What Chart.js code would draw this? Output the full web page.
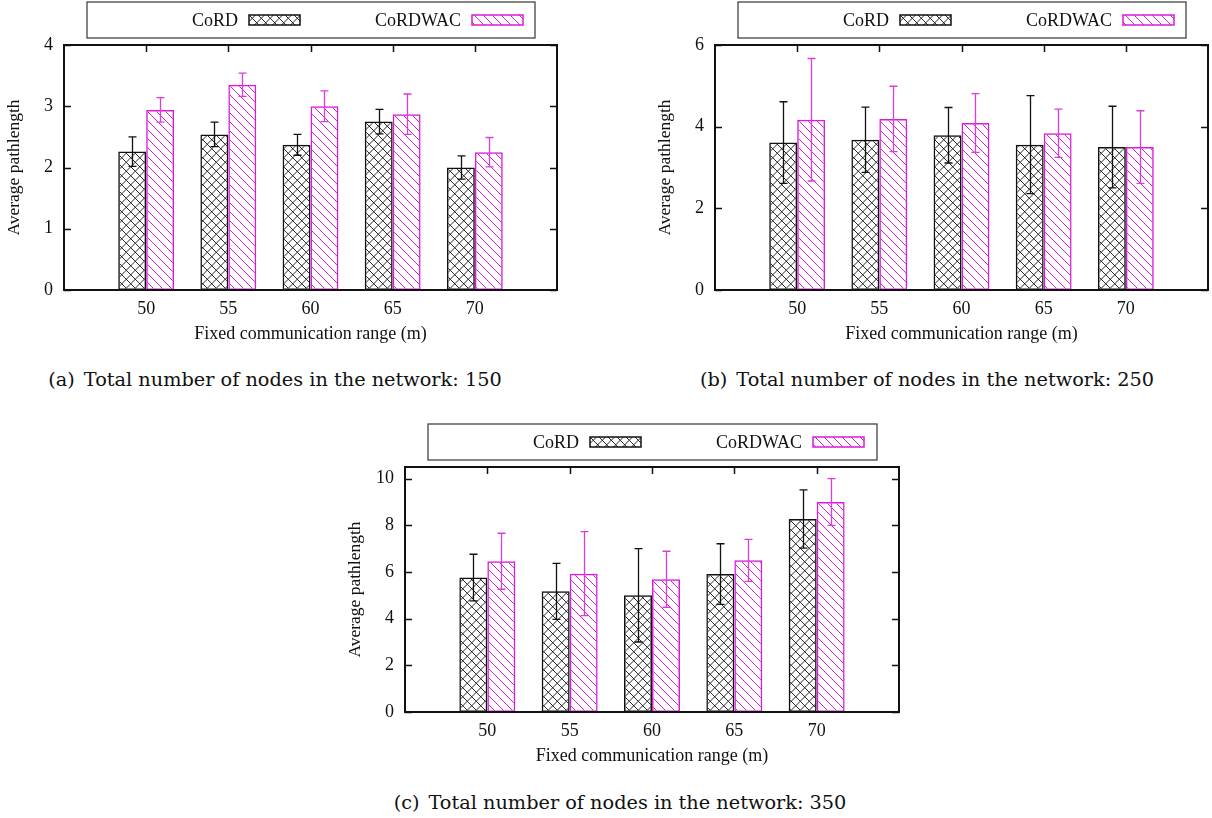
<!DOCTYPE html>
<html>
<head>
<meta charset="utf-8">
<script src="https://cdn.jsdelivr.net/npm/chart.js@4.4.1/dist/chart.umd.min.js"></script>
<style>
  body { margin: 0; background: #fff; width: 1212px; height: 818px; position: relative; overflow: hidden; }
  canvas { position: absolute; }
  .caption {
    position: absolute; font-family: 'DejaVu Serif', serif; font-size: 19.3px; color: #111;
    white-space: nowrap; transform: translateX(-50%); line-height: 22px;
  }
  .caption span { margin-right: 9px; }
</style>
</head>
<body>
<canvas id="chartA" width="580" height="350" style="left:0;top:0"></canvas>
<canvas id="chartB" width="561" height="350" style="left:651px;top:0"></canvas>
<canvas id="chartC" width="580" height="350" style="left:341px;top:422px"></canvas>
<div class="caption" style="left:275px;top:369px"><span>(a)</span>Total number of nodes in the network: 150</div>
<div class="caption" style="left:927px;top:369px"><span>(b)</span>Total number of nodes in the network: 250</div>
<div class="caption" style="left:620px;top:792px"><span>(c)</span>Total number of nodes in the network: 350</div>
<script>
// ---- data -------------------------------------------------------------------
const ranges = [50, 55, 60, 65, 70];
const seriesNames = ['CoRD', 'CoRDWAC'];

// (a) 150 nodes
const cordA    = [2.26, 2.54, 2.37, 2.75, 2.00];
const cordErrA = [0.24, 0.20, 0.17, 0.20, 0.19];
const wacA     = [2.94, 3.35, 3.00, 2.87, 2.25];
const wacErrA  = [0.20, 0.19, 0.25, 0.33, 0.24];
const yTicksA  = [0, 1, 2, 3, 4];

// (b) 250 nodes
const cordB    = [3.61, 3.68, 3.79, 3.56, 3.50];
const cordErrB = [1.00, 0.80, 0.68, 1.20, 1.00];
const wacB     = [4.17, 4.19, 4.09, 3.84, 3.50];
const wacErrB  = [1.50, 0.80, 0.72, 0.59, 0.89];
const yTicksB  = [0, 2, 4, 6];

// (c) 350 nodes
const cordC    = [5.76, 5.17, 5.00, 5.91, 8.27];
const cordErrC = [1.00, 1.20, 2.00, 1.30, 1.25];
const wacC     = [6.46, 5.93, 5.69, 6.50, 9.00];
const wacErrC  = [1.20, 1.80, 1.20, 0.90, 1.00];
const yTicksC  = [0, 2, 4, 6, 8, 10];

const MAGENTA = '#d81cd8';
const SERIF = "'Liberation Serif', 'Times New Roman', serif";

// ---- fill patterns ------------------------------------------------------------
function crossHatch(color, size) {
  const c = document.createElement('canvas');
  c.width = size; c.height = size;
  const g = c.getContext('2d');
  g.strokeStyle = color; g.lineWidth = 0.9;
  g.beginPath();
  for (let k = -1; k <= 1; k++) {
    g.moveTo(-2, -2 + k * size); g.lineTo(size + 2, size + 2 + k * size);
    g.moveTo(size + 2, -2 + k * size); g.lineTo(-2, size + 2 + k * size);
  }
  g.stroke();
  return g.createPattern(c, 'repeat');
}
function backHatch(color, size) {
  const c = document.createElement('canvas');
  c.width = size; c.height = size;
  const g = c.getContext('2d');
  g.strokeStyle = color; g.lineWidth = 1;
  g.beginPath();
  for (let k = -1; k <= 1; k++) {
    g.moveTo(-2, -2 + k * size); g.lineTo(size + 2, size + 2 + k * size);
  }
  g.stroke();
  return g.createPattern(c, 'repeat');
}
const crossFill = crossHatch('#111', 9.5);
const hatchFill = backHatch(MAGENTA, 9);

// ---- plugins ------------------------------------------------------------------
// gnuplot-like frame with inward ticks on all four sides
const framePlugin = {
  id: 'frame',
  afterDatasetsDraw(chart) {
    const { ctx, chartArea: a, scales } = chart;
    ctx.save();
    ctx.strokeStyle = '#111';
    ctx.lineWidth = 1.5;
    ctx.beginPath();
    scales.x.ticks.forEach(t => {
      const px = Math.round(scales.x.getPixelForValue(t.value)) + 0.5;
      ctx.moveTo(px, a.top); ctx.lineTo(px, a.top + 7);
    });
    scales.y.ticks.forEach(t => {
      const py = Math.round(scales.y.getPixelForValue(t.value)) + 0.5;
      ctx.moveTo(a.left, py); ctx.lineTo(a.left + 7, py);
      ctx.moveTo(a.right, py); ctx.lineTo(a.right - 7, py);
    });
    ctx.stroke();
    ctx.lineWidth = 2;
    ctx.strokeRect(a.left, a.top, a.right - a.left, a.bottom - a.top);
    ctx.restore();
  }
};

// symmetric error bars on each bar
const errorBarPlugin = {
  id: 'errorBars',
  afterDatasetsDraw(chart) {
    const { ctx, scales } = chart;
    chart.data.datasets.forEach((ds, i) => {
      const meta = chart.getDatasetMeta(i);
      ctx.save();
      ctx.strokeStyle = ds.errColor;
      ctx.lineWidth = 1.3;
      meta.data.forEach((bar, j) => {
        const v = ds.data[j].y, e = ds.err[j];
        const x = Math.round(bar.x) + 0.5;
        const yHi = scales.y.getPixelForValue(v + e);
        const yLo = scales.y.getPixelForValue(v - e);
        ctx.beginPath();
        ctx.moveTo(x, yHi); ctx.lineTo(x, yLo);
        ctx.moveTo(x - 4, yHi); ctx.lineTo(x + 4, yHi);
        ctx.moveTo(x - 4, yLo); ctx.lineTo(x + 4, yLo);
        ctx.stroke();
      });
      ctx.restore();
    });
  }
};

// boxed legend above the plot, label first then sample
const boxLegendPlugin = {
  id: 'boxLegend',
  afterDraw(chart) {
    const { ctx, chartArea: a } = chart;
    const left = a.left + 23, right = a.right - 22;
    const top = a.top - 43, bottom = a.top - 7;
    const mid = (top + bottom) / 2;
    ctx.save();
    ctx.strokeStyle = '#444';
    ctx.lineWidth = 1.3;
    ctx.strokeRect(left, top, right - left, bottom - top);
    ctx.font = '18px ' + SERIF;
    ctx.fillStyle = '#111';
    ctx.textAlign = 'right';
    ctx.textBaseline = 'middle';
    const textRight = [151, 374];
    chart.data.datasets.forEach((ds, i) => {
      const tx = left + textRight[i];
      ctx.fillText(ds.label, tx, mid + 1);
      const sx = tx + 11, sw = 51, sh = 10;
      ctx.fillStyle = ds.backgroundColor;
      ctx.fillRect(sx, mid - sh / 2, sw, sh);
      ctx.strokeStyle = ds.borderColor;
      ctx.lineWidth = 1.5;
      ctx.strokeRect(sx, mid - sh / 2, sw, sh);
      ctx.fillStyle = '#111';
    });
    ctx.restore();
  }
};

// ---- charts -------------------------------------------------------------------
function makeChart(id, cord, cordErr, wac, wacErr, yMax, yTicks, padRight) {
  return new Chart(document.getElementById(id), {
    type: 'bar',
    data: {
      datasets: [
        {
          label: seriesNames[0],
          data: ranges.map((x, i) => ({ x, y: cord[i] })),
          err: cordErr,
          errColor: '#111',
          backgroundColor: crossFill,
          borderColor: '#111',
          borderWidth: 1.5,
          borderSkipped: false
        },
        {
          label: seriesNames[1],
          data: ranges.map((x, i) => ({ x, y: wac[i] })),
          err: wacErr,
          errColor: '#dc3cdc',
          backgroundColor: hatchFill,
          borderColor: MAGENTA,
          borderWidth: 1.5,
          borderSkipped: false
        }
      ]
    },
    options: {
      responsive: false,
      animation: false,
      devicePixelRatio: 1,
      categoryPercentage: 0.68,
      barPercentage: 1.0,
      layout: { padding: { left: 0, right: padRight, top: 45, bottom: 0 } },
      scales: {
        x: {
          type: 'linear',
          min: 45,
          max: 75,
          offset: false,
          grid: { display: false, drawTicks: false },
          border: { display: false },
          afterBuildTicks: s => { s.ticks = ranges.map(v => ({ value: v })); },
          afterFit: s => { s.height = 60; },
          ticks: {
            padding: 8,
            color: '#111',
            font: { family: SERIF, size: 18 },
            maxRotation: 0
          },
          title: {
            display: true,
            text: 'Fixed communication range (m)',
            color: '#111',
            font: { family: SERIF, size: 18 },
            padding: { top: 0, bottom: 5 }
          }
        },
        y: {
          min: 0,
          max: yMax,
          grid: { display: false, drawTicks: false },
          border: { display: false },
          afterBuildTicks: s => { s.ticks = yTicks.map(v => ({ value: v })); },
          afterFit: s => { s.width = 64; },
          ticks: {
            padding: 11,
            color: '#111',
            font: { family: SERIF, size: 18 }
          },
          title: {
            display: true,
            text: 'Average pathlength',
            color: '#111',
            font: { family: SERIF, size: 17.5 },
            padding: { top: 4, bottom: 0 }
          }
        }
      },
      plugins: {
        legend: { display: false },
        tooltip: { enabled: false }
      }
    },
    plugins: [framePlugin, errorBarPlugin, boxLegendPlugin]
  });
}

makeChart('chartA', cordA, cordErrA, wacA, wacErrA, 4, yTicksA, 23);
makeChart('chartB', cordB, cordErrB, wacB, wacErrB, 6, yTicksB, 4);
makeChart('chartC', cordC, cordErrC, wacC, wacErrC, 10.5, yTicksC, 22);
</script>
</body>
</html>
